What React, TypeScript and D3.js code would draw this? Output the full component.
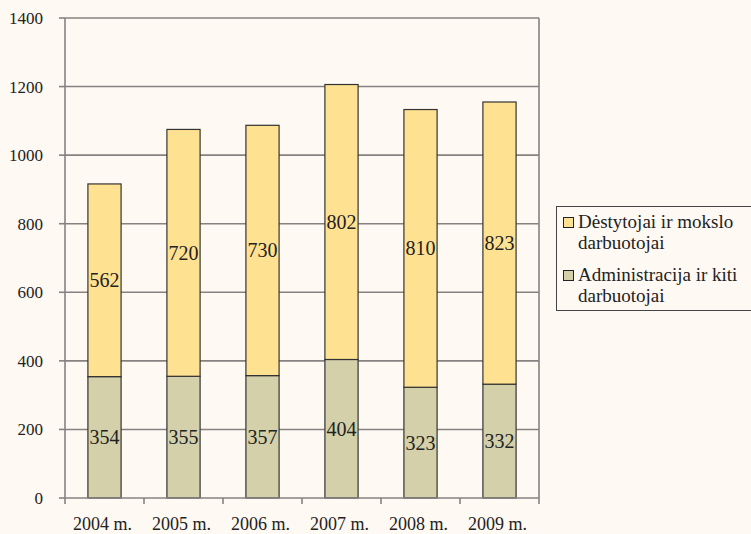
import React from "react";
import * as d3 from "d3";

const years = ["2004 m.", "2005 m.", "2006 m.", "2007 m.", "2008 m.", "2009 m."];
const admin = [354, 355, 357, 404, 323, 332];
const teachers = [562, 720, 730, 802, 810, 823];
const yTicks = [0, 200, 400, 600, 800, 1000, 1200, 1400];
const seriesNames = ["Dėstytojai ir mokslo|darbuotojai", "Administracija ir kiti|darbuotojai"];

const FONT = "'Liberation Serif', 'Times New Roman', serif";

function T(props: any) {
  return <text {...props} style={{ fontFamily: FONT }} />;
}

export default function App() {
  const W = 751, H = 534;
  const left = 65, right = 539, top = 18, bottom = 498;
  const x = d3.scaleBand().domain(years).range([left, right]).paddingInner(0.58).paddingOuter(0.29);
  const y = d3.scaleLinear().domain([0, 1400]).range([bottom, top]);
  const band = d3.scaleBand().domain(years).range([left, right]);
  const colTeach = "#FFE192";
  const colAdmin = "#D3D0AA";
  const grid = "#868282";
  return (
    <svg width={W} height={H} style={{ position: "absolute", left: 0, top: 0, background: "#FEF9F2" }}>
      <rect x={0} y={0} width={W} height={H} fill="#FEF9F2" />
      {yTicks.map((t) => (
        <g key={t}>
          {t > 0 && <line x1={left} x2={right} y1={y(t)} y2={y(t)} stroke={grid} strokeWidth={1.6} />}
          <line x1={left - 6} x2={left} y1={y(t)} y2={y(t)} stroke={grid} strokeWidth={1.6} />
          <T x={43} y={y(t)} dy="0.35em" textAnchor="end" fontSize={17} fill="#222">{t}</T>
        </g>
      ))}
      <line x1={left} x2={left} y1={top} y2={bottom} stroke={grid} strokeWidth={1.6} />
      <line x1={right} x2={right} y1={top} y2={bottom} stroke={grid} strokeWidth={1.6} />
      {years.map((yr, i) => {
        const bx = x(yr)!;
        const bw = x.bandwidth();
        const a = admin[i], t = teachers[i];
        return (
          <g key={yr}>
            <rect x={bx} y={y(a)} width={bw} height={y(0) - y(a)} fill={colAdmin} stroke="#333" strokeWidth={1.2} />
            <rect x={bx} y={y(a + t)} width={bw} height={y(a) - y(a + t)} fill={colTeach} stroke="#333" strokeWidth={1.2} />
            <T x={bx + bw / 2} y={y(a / 2)} dy="0.35em" textAnchor="middle" fontSize={20} fill="#222">{a}</T>
            <T x={bx + bw / 2} y={y(a + t / 2)} dy="0.35em" textAnchor="middle" fontSize={20} fill="#222">{t}</T>
            <T x={bx + bw / 2 - 2} y={530} textAnchor="middle" fontSize={18} fill="#222">{yr}</T>
          </g>
        );
      })}
      <line x1={left} x2={right} y1={bottom} y2={bottom} stroke={grid} strokeWidth={1.6} />
      {years.map((yr) => (
        <line key={"t" + yr} x1={band(yr)!} x2={band(yr)!} y1={bottom} y2={bottom + 6} stroke={grid} strokeWidth={1.6} />
      ))}
      <line x1={right} x2={right} y1={bottom} y2={bottom + 6} stroke={grid} strokeWidth={1.6} />
      <rect x={556.5} y={206.5} width={196} height={104} fill="#FEF9F2" stroke="#444" strokeWidth={1} />
      {seriesNames.map((n, i) => {
        const parts = n.split("|");
        const base = 228 + i * 53;
        return (
          <g key={n}>
            <rect x={563.5} y={base - 10.5} width={10} height={10} fill={i === 0 ? colTeach : colAdmin} stroke="#222" strokeWidth={1} />
            <T x={578} y={base} fontSize={19} fill="#222">{parts[0]}</T>
            <T x={578} y={base + 21} fontSize={19} fill="#222">{parts[1]}</T>
          </g>
        );
      })}
    </svg>
  );
}
